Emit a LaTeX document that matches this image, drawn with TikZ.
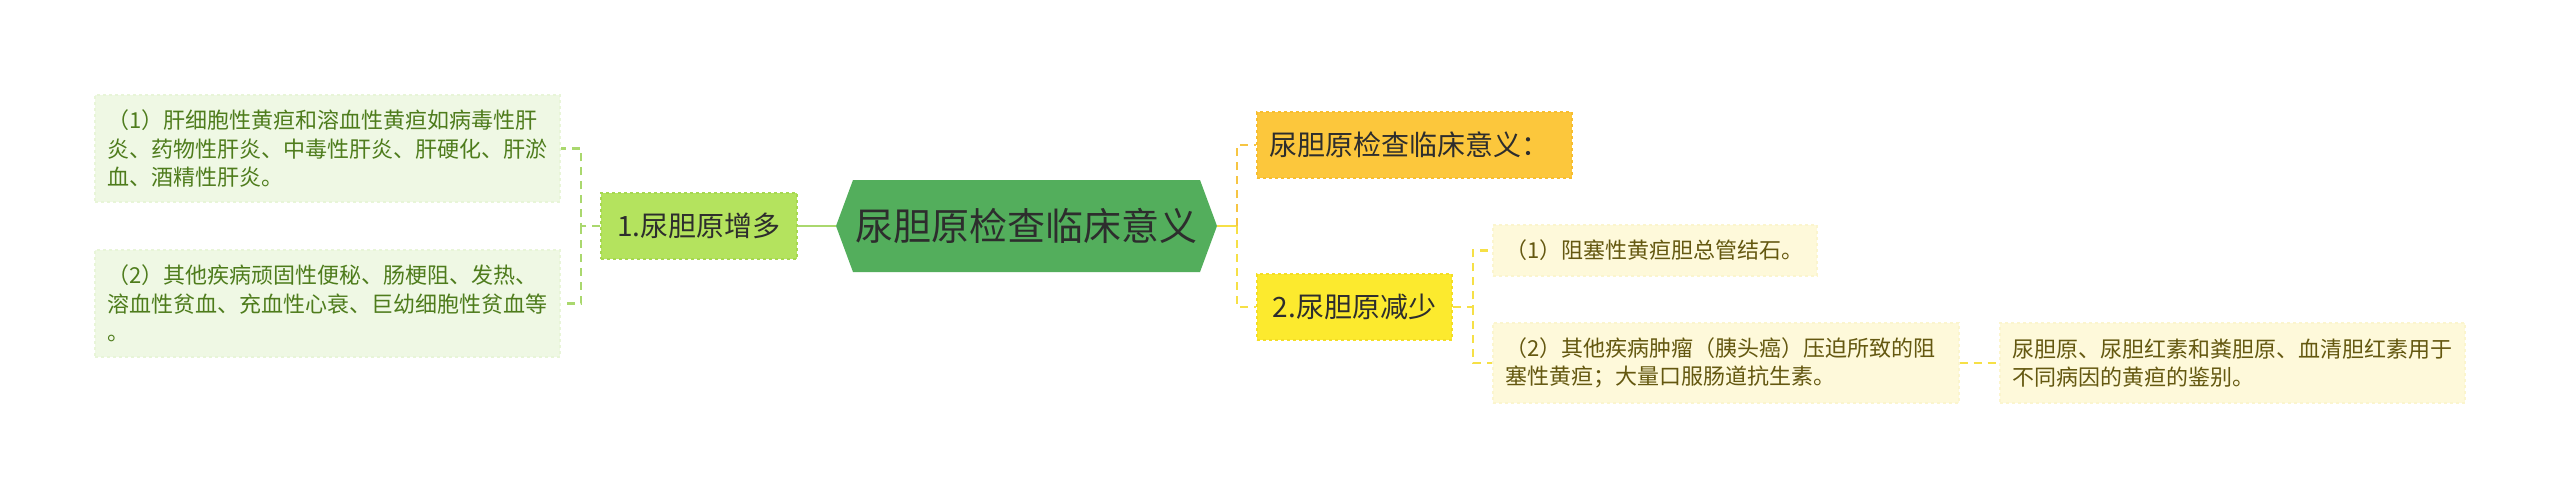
\documentclass[tikz,border=0pt]{standalone}
\usepackage{fontspec}
\newfontfamily\cjk{Noto Sans CJK SC}
\usetikzlibrary{calc}
\definecolor{lgfill}{RGB}{239,248,228}
\definecolor{lgborder}{RGB}{232,245,216}
\definecolor{lgtext}{RGB}{78,124,28}
\definecolor{gnfill}{RGB}{180,227,94}
\definecolor{gnborder}{RGB}{166,216,80}
\definecolor{gline}{RGB}{170,216,110}
\definecolor{rootfill}{RGB}{83,174,92}
\definecolor{darktext}{RGB}{45,45,45}
\definecolor{orfill}{RGB}{252,199,60}
\definecolor{orborder}{RGB}{247,190,48}
\definecolor{orline}{RGB}{246,197,66}
\definecolor{yefill}{RGB}{252,234,46}
\definecolor{yeborder}{RGB}{244,222,36}
\definecolor{yeline}{RGB}{246,224,70}
\definecolor{lyfill}{RGB}{254,249,218}
\definecolor{lyborder}{RGB}{251,245,206}
\definecolor{lytext}{RGB}{100,88,16}
\tikzset{
  conn/.style={line width=2.2pt, dash pattern=on 8pt off 6pt},
  leafbox/.style={align=left, inner xsep=12pt, inner ysep=0pt,
     font=\cjk\fontsize{22}{28.5}\selectfont, dashed, line width=1.2pt},
  greenleaf/.style={leafbox, fill=lgfill, draw=lgborder, text=lgtext},
  yellowleaf/.style={leafbox, fill=lyfill, draw=lyborder, text=lytext},
  midbox/.style={inner sep=0pt, font=\cjk\fontsize{28}{34}\selectfont,
     text=darktext, dashed, line width=1.5pt, minimum height=66pt},
  rootbox/.style={inner sep=0pt, minimum width=381pt, minimum height=92pt,
     font=\cjk\fontsize{38}{44}\selectfont, text=darktext,
     path picture={\fill[rootfill] (path picture bounding box.west)
        -- ([xshift=17pt]path picture bounding box.north west)
        -- ([xshift=-17pt]path picture bounding box.north east)
        -- (path picture bounding box.east)
        -- ([xshift=-17pt]path picture bounding box.south east)
        -- ([xshift=17pt]path picture bounding box.south west) -- cycle;}}
}
\begin{document}
\begin{tikzpicture}[x=1pt,y=-1pt]
\fill[white] (0,0) rectangle (2560,498);
\useasboundingbox (0,0) rectangle (2560,498);

% root
\node[rootbox] (root) at (1026.5,226) {尿胆原检查临床意义};

% left branch
\node[midbox, fill=gnfill, draw=gnborder, minimum width=196pt] (n1) at (699,226) {1.尿胆原增多};
\node[greenleaf, text width=441pt, minimum height=107pt] (l1) at (327.5,148.5)
  {（1）肝细胞性黄疸和溶血性黄疸如病毒性肝\\炎、药物性肝炎、中毒性肝炎、肝硬化、肝淤\\血、酒精性肝炎。};
\node[greenleaf, text width=441pt, minimum height=107pt] (l2) at (327.5,303.5)
  {（2）其他疾病顽固性便秘、肠梗阻、发热、\\溶血性贫血、充血性心衰、巨幼细胞性贫血等\\。};

% right branch
\node[midbox, fill=orfill, draw=orborder, minimum width=315pt, align=left, text width=291pt, inner xsep=12pt] (t1) at (1414.5,145) {尿胆原检查临床意义：};
\node[midbox, fill=yefill, draw=yeborder, minimum width=195pt] (n2) at (1354.5,307) {2.尿胆原减少};
\node[yellowleaf, text width=300pt, minimum height=51pt] (r1) at (1655,250.5)
  {（1）阻塞性黄疸胆总管结石。};
\node[yellowleaf, text width=442pt, minimum height=80pt] (r2) at (1726,363)
  {（2）其他疾病肿瘤（胰头癌）压迫所致的阻\\塞性黄疸；大量口服肠道抗生素。};
\node[yellowleaf, text width=441pt, minimum height=80pt] (r3) at (2232.5,363)
  {尿胆原、尿胆红素和粪胆原、血清胆红素用于\\不同病因的黄疸的鉴别。};

% junctions
\coordinate (jl) at (581,226);
\coordinate (jr) at (1237,226);
\coordinate (j2) at (1473,307);

% connectors
\draw[conn, gline] (n1.west) -- (jl) |- (l1.east);
\draw[conn, gline] (jl) |- (l2.east);
\draw[gline, line width=2.2pt] (root.west) -- (n1.east);
\draw[yeline, line width=2.2pt] (root.east) -- (jr);
\draw[conn, orline] (jr) |- (t1.west);
\draw[conn, yeline] (jr) |- (n2.west);
\draw[conn, yeline] (n2.east) -- (j2) |- (r1.west);
\draw[conn, yeline] (j2) |- (r2.west);
\draw[conn, yeline] (r2.east) -- (r3.west);
\end{tikzpicture}
\end{document}
